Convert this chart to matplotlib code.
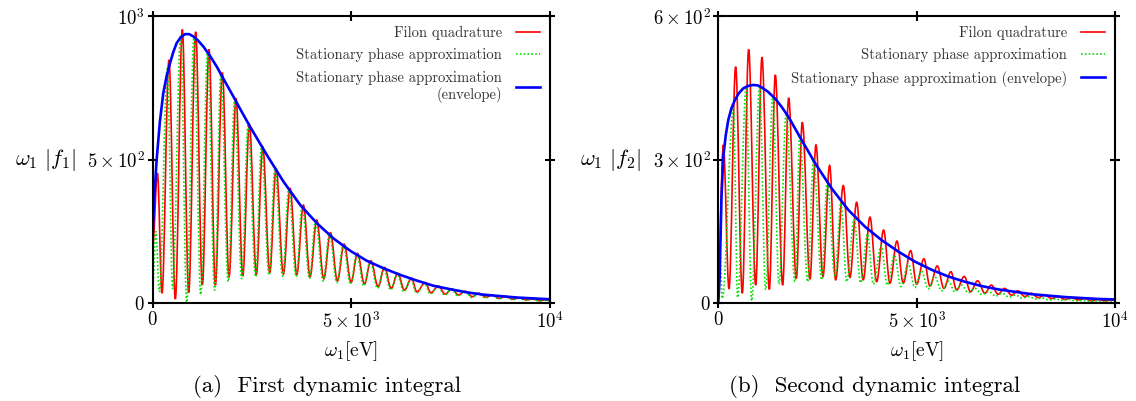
import numpy as np
import matplotlib.pyplot as plt
from matplotlib.path import Path
from matplotlib.patches import PathPatch
from matplotlib.lines import Line2D

plt.rcParams['font.family'] = 'serif'
plt.rcParams['font.serif'] = ['cmr10', 'DejaVu Serif']
plt.rcParams['mathtext.fontset'] = 'cm'
plt.rcParams['axes.unicode_minus'] = False

# ---- first dynamic integral (alternating extrema) ----
f1_filon_w = [0, 120, 234, 410, 570, 746, 906, 1082, 1250, 1418, 1578, 1754, 1922, 2098, 2267,
              2434, 2610, 2770, 2947, 3106, 3290, 3459, 3627, 3794, 3962, 4130, 4307, 4475, 4650,
              4819, 4995, 5155, 5330, 5491, 5675, 5835, 6003, 6171, 6338, 6515, 6650, 6860, 7003,
              7195, 7363, 7531, 7698, 7867, 8050, 8203, 8395, 8539, 8730, 8874, 9083, 9210, 9421,
              9546, 9756, 9882, 10000]
f1_filon = [200, 453, 35, 847, 15, 953, 37, 945, 64, 884, 63, 803, 91, 713, 95,
            624, 101, 545, 107, 469, 102, 400, 100, 342, 93, 290, 85, 246, 78,
            206, 73, 174, 67, 148, 58, 125, 52, 104, 46, 87, 40, 72, 37,
            60, 32, 50, 29, 42, 23, 35, 21, 29, 17, 24, 14, 19, 12,
            15, 9, 12, 10]

f1_spa_w = [0, 80, 167, 370, 503, 705, 856, 1040, 1209, 1380, 1560, 1715, 1900, 2060, 2240,
            2400, 2590, 2735, 2930, 3075, 3270, 3425, 3610, 3765, 3945, 4100, 4290, 4450, 4635,
            4795, 4980, 5135, 5315, 5470, 5660, 5815, 5990, 6150, 6325, 6495, 6640, 6840, 6990,
            7175, 7350, 7515, 7685, 7850, 8035, 8190, 8380, 8525, 8715, 8860, 9070, 9195, 9410,
            9535, 9745, 9870, 10000]
f1_spa = [60, 250, 40, 820, 50, 935, 3, 930, 30, 875, 45, 795, 75, 705, 85,
          618, 92, 540, 98, 465, 95, 397, 92, 340, 85, 288, 78, 244, 72,
          204, 66, 172, 60, 146, 52, 123, 46, 103, 40, 86, 35, 71, 32,
          59, 28, 49, 25, 41, 20, 34, 18, 28, 15, 23, 12, 18, 10,
          14, 8, 11, 9]

f1_env_w = [0, 50, 100, 180, 267, 350, 436, 520, 604, 700, 814, 920, 1023, 1140, 1275, 1440,
            1612, 1820, 2030, 2240, 2451, 2871, 3290, 3710, 4131, 4549, 4970, 5390, 5809, 6229,
            6650, 7068, 7489, 7909, 8327, 8750, 9169, 9580, 10000]
f1_env = [245, 390, 500, 630, 732, 790, 836, 875, 906, 925, 937, 937, 929, 915, 894, 862,
          824, 772, 720, 667, 615, 517, 424, 343, 279, 226, 183, 148, 122, 99,
          79, 61, 49, 38, 30, 25, 20, 17, 14]

# ---- second dynamic integral ----
f2_filon_w = [0, 127, 270, 437, 605, 765, 942, 1101, 1286, 1437, 1622, 1773, 1966, 2118, 2311,
              2462, 2638, 2806, 2958, 3151, 3319, 3487, 3654, 3823, 3992, 4167, 4327, 4503, 4662,
              4848, 5000, 5184, 5335, 5520, 5688, 5864, 6008, 6200, 6360, 6536, 6721, 6881, 7056,
              7217, 7394, 7553, 7729, 7889, 8064, 8233, 8402, 8569, 8737, 8905, 9072, 9241, 9410,
              9577, 9745, 9913, 10000]
f2_filon = [50, 331, 30, 494, 21, 530, 38, 514, 29, 477, 38, 429, 52, 378, 51,
            331, 56, 288, 49, 246, 54, 211, 49, 180, 45, 153, 42, 130, 42,
            110, 40, 93, 36, 78, 31, 66, 28, 56, 24, 47, 21, 38, 19,
            31, 17, 26, 14, 21, 12, 17, 10, 14, 8, 12, 7, 10, 5,
            8, 5, 7, 6]

f2_spa_w = [0, 30, 101, 380, 489, 700, 842, 1040, 1194, 1375, 1530, 1710, 1933, 2055, 2253,
            2400, 2606, 2745, 2941, 3090, 3236, 3425, 3588, 3760, 3906, 4105, 4259, 4440, 4604,
            4785, 4957, 5120, 5292, 5455, 5629, 5800, 5965, 6135, 6300, 6470, 6650, 6815, 6990,
            7150, 7330, 7490, 7660, 7825, 8000, 8170, 8340, 8505, 8670, 8840, 9010, 9180, 9350,
            9515, 9690, 9850, 10000]
f2_spa = [20, 130, 10, 410, 12, 448, 5, 452, 28, 432, 40, 396, 45, 350, 45,
          302, 49, 255, 56, 210, 45, 175, 43, 145, 40, 120, 38, 100, 35,
          82, 33, 68, 30, 56, 26, 46, 24, 38, 22, 31, 18, 25, 15,
          21, 13, 17, 11, 14, 9, 11, 7, 9, 6, 8, 5, 6, 4,
          5, 3, 5, 4]

f2_env_w = [0, 35, 80, 126, 190, 252, 330, 421, 520, 630, 750, 882, 1000, 1093, 1250, 1429,
            1600, 1765, 1930, 2101, 2270, 2437, 2857, 3277, 3697, 4117, 4537, 4957, 5377, 5796,
            6216, 6636, 7056, 7476, 7896, 8316, 8740, 9157, 9580, 10000]
f2_env = [0, 56, 220, 306, 352, 383, 407, 425, 439, 449, 454, 456, 455, 451, 442, 428,
          410, 390, 366, 341, 317, 293, 240, 195, 160, 132, 108, 87, 70, 56,
          45, 36, 29, 24, 19, 16, 13, 11, 9, 8]

xticks = [0, 5000, 10000]
xtick_labels = [r'$0$', r'$5\times10^3$', r'$10^4$']
f1_yticks = [0, 500, 1000]
f1_ytick_labels = [r'$0$', r'$5\times10^2$', r'$10^3$']
f2_yticks = [0, 300, 600]
f2_ytick_labels = [r'$0$', r'$3\times10^2$', r'$6\times10^2$']

RED = '#ff0000'
GREEN = '#00e000'
BLUE = '#0000ff'
GREEN_LS = (0, (1, 1.3))


def wave_path(w, v, k=0.36):
    # smooth curve through the read extrema (flat tangent at each max/min)
    verts = [(w[0], v[0])]
    codes = [Path.MOVETO]
    for i in range(1, len(w)):
        dx = (w[i] - w[i - 1]) * k
        verts += [(w[i - 1] + dx, v[i - 1]), (w[i] - dx, v[i]), (w[i], v[i])]
        codes += [Path.CURVE4] * 3
    return Path(verts, codes)


def draw_panel(ax, w_red, red, w_green, green, w_env, env, yticks, ylabels, ylab, env_label, caption, cap_x):
    ax.add_patch(PathPatch(wave_path(w_red, red), fill=False, ec=RED, lw=1.2))
    ax.add_patch(PathPatch(wave_path(w_green, green), fill=False, ec=GREEN, lw=1.2, ls=GREEN_LS))
    ax.plot(w_env, env, color=BLUE, lw=1.9)
    ax.set_xlim(xticks[0], xticks[-1])
    ax.set_ylim(yticks[0], yticks[-1])
    ax.set_xticks(xticks, xtick_labels)
    ax.set_yticks(yticks, ylabels)
    ax.tick_params(direction='inout', length=7, width=1.5, top=True, right=True,
                   labelsize=13.5, pad=2)
    for s in ax.spines.values():
        s.set_linewidth(1.5)
    ax.set_xlabel(r'$\omega_1[\mathrm{eV}]$', fontsize=14, labelpad=5)
    ax.set_ylabel(ylab, fontsize=16, rotation=0, ha='right', va='center')
    ax.yaxis.set_label_coords(-0.193, 0.5)
    handles = [Line2D([], [], color=RED, lw=1.2),
               Line2D([], [], color=GREEN, lw=1.2, ls=GREEN_LS),
               Line2D([], [], color=BLUE, lw=1.9)]
    labels = ['Filon quadrature', 'Stationary phase approximation', env_label]
    leg = ax.legend(handles, labels, loc='upper right', frameon=False, markerfirst=False,
                    fontsize=10.5, handlelength=1.6, handletextpad=1.0,
                    labelspacing=0.55, borderaxespad=0.3)
    for t in leg.get_texts():
        t.set_multialignment('right')
        t.set_color('#333333')
    ax.text(cap_x, -0.291, caption, transform=ax.transAxes, fontsize=16.5,
            ha='center', va='center')


fig = plt.figure(figsize=(11.36, 4.01), dpi=100)
ax1 = fig.add_axes([0.1344, 0.2437, 0.3497, 0.7163])
ax2 = fig.add_axes([0.6323, 0.2437, 0.3492, 0.7163])

draw_panel(ax1, f1_filon_w, f1_filon, f1_spa_w, f1_spa, f1_env_w, f1_env,
           f1_yticks, f1_ytick_labels, r'$\omega_1\ |f_1|$',
           'Stationary phase approximation\n(envelope)', '(a)  First dynamic integral', 0.44)
draw_panel(ax2, f2_filon_w, f2_filon, f2_spa_w, f2_spa, f2_env_w, f2_env,
           f2_yticks, f2_ytick_labels, r'$\omega_1\ |f_2|$',
           'Stationary phase approximation (envelope)', '(b)  Second dynamic integral', 0.395)

fig.savefig('out.png', dpi=100)
